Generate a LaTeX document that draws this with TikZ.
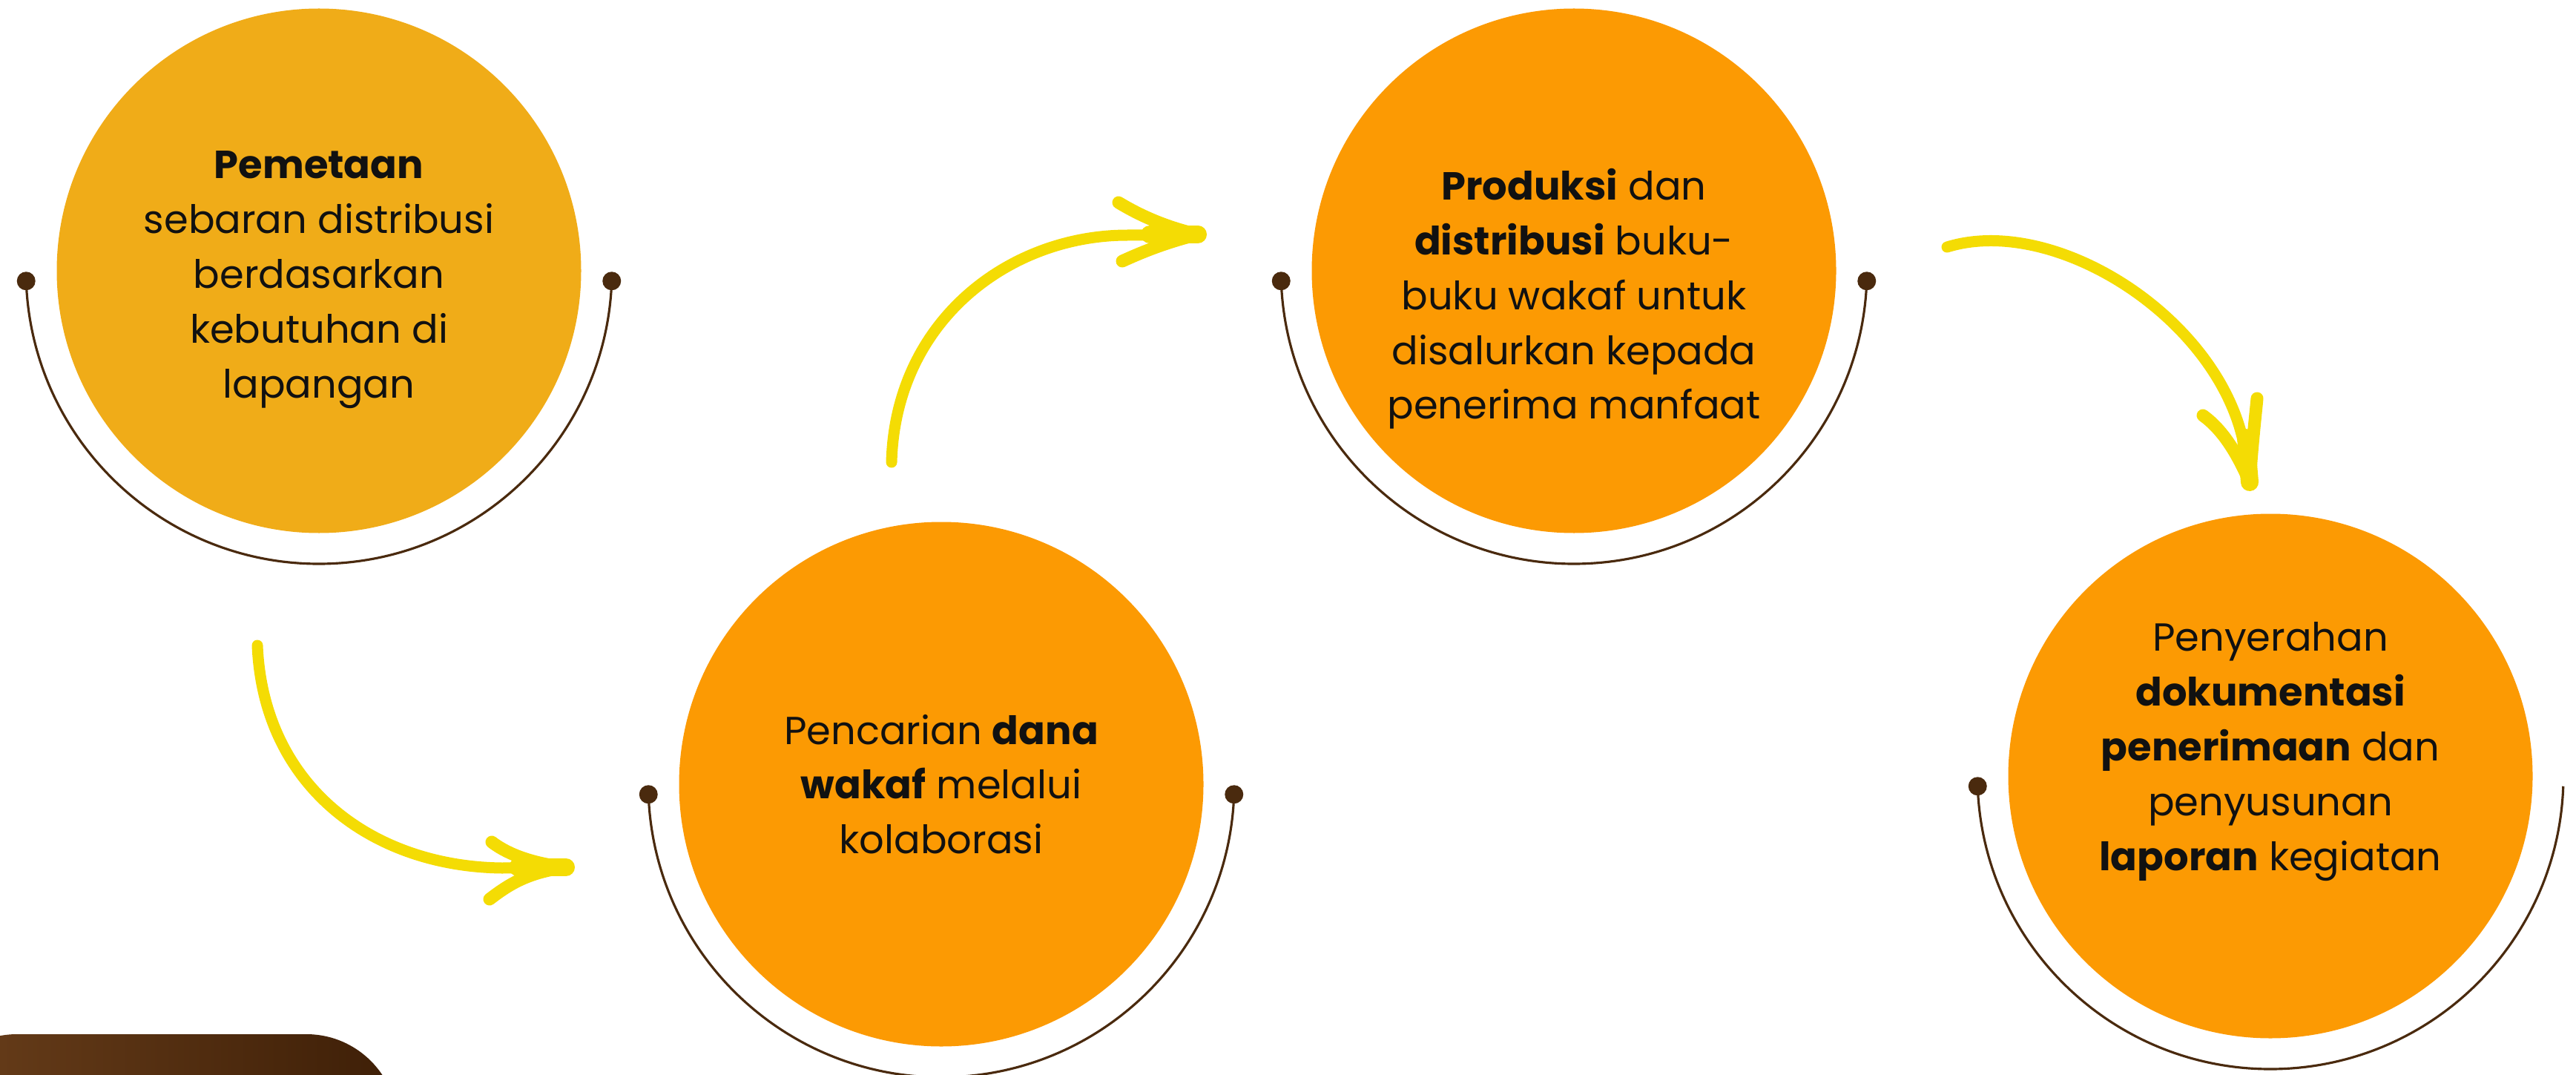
\documentclass[tikz,border=0pt]{standalone}
\usepackage{fontspec}
\setmainfont{Poppins}
\usetikzlibrary{calc}

\definecolor{goldfill}{HTML}{F0AC18}
\definecolor{orangefill}{HTML}{FC9A03}
\definecolor{ringbrown}{HTML}{4A2A0E}
\definecolor{arrowyellow}{HTML}{F4DC04}
\definecolor{tableft}{HTML}{6A3F1B}
\definecolor{tabright}{HTML}{3E1F07}
\definecolor{inktext}{HTML}{111111}

\begin{document}
\begin{tikzpicture}[
    stepcirc/.style={circle, inner sep=0pt, minimum size=7.07cm, fill=orangefill},
    steptext/.style={align=center, text=inktext,
                     font=\fontsize{15pt}{21pt}\selectfont},
    ring/.style={draw=ringbrown, line width=0.9pt},
    ringdot/.style={fill=ringbrown},
    flow/.style={draw=arrowyellow, line width=1.5mm, line cap=round},
    barb/.style={flow, line width=1.7mm},
    tipblob/.style={flow, line width=2.4mm}
]
  \useasboundingbox (0,0) rectangle (34.73,14.48);
  \clip (0,0) rectangle (34.73,14.48);

  % corner tab, bottom left
  \shade[left color=tableft, right color=tabright, rounded corners=1.23cm]
    (-1,-2) rectangle (5.36,0.54);

  % steps
  \node[stepcirc, fill=goldfill] (c1) at (4.30,10.83) {};
  \node[stepcirc] (c2) at (12.69,3.91) {};
  \node[stepcirc] (c3) at (21.22,10.83) {};
  \node[stepcirc] (c4) at (30.61,4.02) {};

  \node[steptext] (t1) at ($(c1)+(0,-0.12)$)
    {\textbf{Pemetaan}\\sebaran distribusi\\berdasarkan\\kebutuhan di\\lapangan};
  \node[steptext] (t2) at (c2)
    {Pencarian \textbf{dana}\\\textbf{wakaf} melalui\\kolaborasi};
  \node[steptext] (t3) at ($(c3)+(0,-0.38)$)
    {\textbf{Produksi} dan\\\textbf{distribusi} buku-\\buku wakaf untuk\\disalurkan kepada\\penerima manfaat};
  \node[steptext] (t4) at ($(c4)+(0,0.33)$)
    {Penyerahan\\\textbf{dokumentasi}\\\textbf{penerimaan} dan\\penyusunan\\\textbf{laporan} kegiatan};

  % half rings under each step
  \foreach \n in {c1,c2,c3,c4} {
    \coordinate (\n l) at ($(\n)+(182:3.95)$);
    \coordinate (\n r) at ($(\n)+(358:3.95)$);
    \draw[ring] (\n l) arc[start angle=182, end angle=358, radius=3.95];
  }
  \foreach \n in {c1,c2,c3}
    \fill[ringdot] (\n l) circle (0.125) (\n r) circle (0.125);
  \fill[ringdot] (c4l) circle (0.125);

  % hand drawn arrows
  \coordinate (a1s) at (3.47,5.78);
  \coordinate (a1t) at (7.63,2.79);
  \coordinate (a1u) at (6.63,3.13);
  \coordinate (a1d) at (6.60,2.36);
  \draw[flow] (a1s) .. controls (3.55,3.9) and (5.0,2.8) .. (6.77,2.78) -- (a1t);
  \draw[tipblob] ($(a1t)+(-0.65,0)$) -- (a1t);
  \draw[barb] (a1t) .. controls (7.1,2.85) and (6.8,3.0) .. (a1u);
  \draw[barb] (a1t) .. controls (7.1,2.72) and (6.85,2.55) .. (a1d);

  \coordinate (a2s) at (12.02,8.25);
  \coordinate (a2t) at (16.15,11.32);
  \coordinate (a2u) at (15.08,11.75);
  \coordinate (a2d) at (15.13,10.96);
  \draw[flow] (a2s) .. controls (12.07,10.15) and (13.6,11.31) .. (15.2,11.31) -- (a2t);
  \draw[tipblob] ($(a2t)+(-0.65,0)$) -- (a2t);
  \draw[barb] (a2t) .. controls (15.67,11.43) and (15.33,11.6) .. (a2u);
  \draw[barb] (a2t) .. controls (15.67,11.2) and (15.35,11.06) .. (a2d);

  \coordinate (a3s) at (26.25,11.15);
  \coordinate (a3t) at (30.33,7.98);
  \coordinate (a3l) at (29.70,8.88);
  \coordinate (a3r) at (30.43,9.11);
  \draw[flow] (a3s) .. controls (27.7,11.6) and (29.9,10.2) .. (30.25,8.5) -- (a3t);
  \draw[tipblob] ($(a3t)+(-0.05,0.6)$) -- (a3t);
  \draw[barb] (a3t) .. controls (30.15,8.4) and (29.95,8.7) .. (a3l);
  \draw[barb] (a3t) .. controls (30.36,8.45) and (30.4,8.8) .. (a3r);
\end{tikzpicture}
\end{document}
